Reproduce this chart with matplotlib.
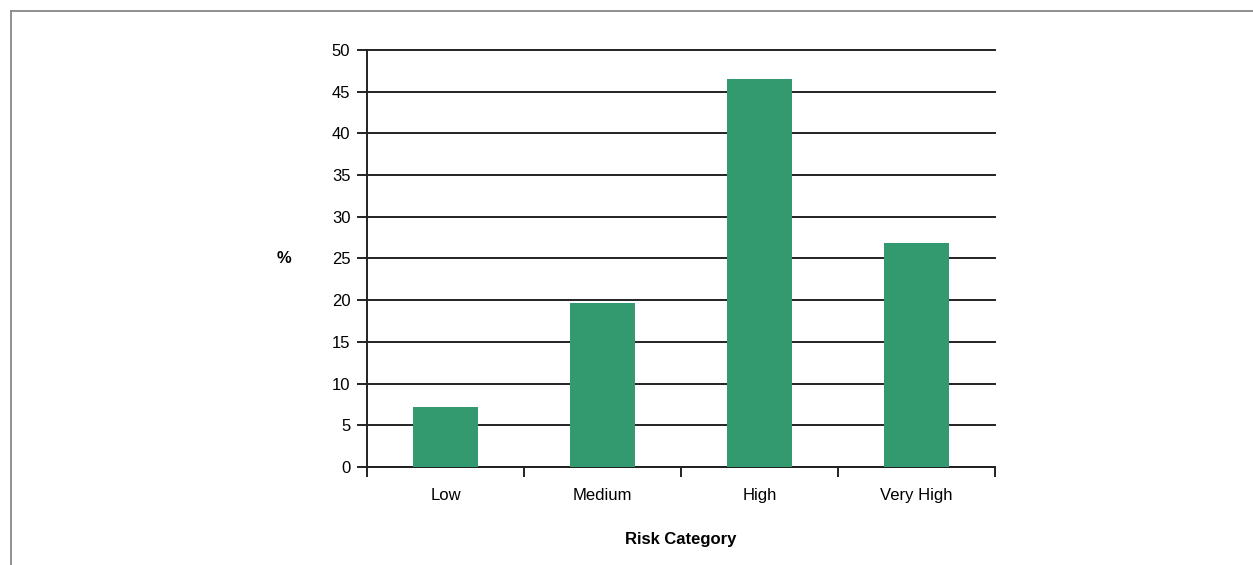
import matplotlib
matplotlib.use("Agg")
import matplotlib.pyplot as plt
from matplotlib.lines import Line2D
import numpy as np

categories = ["Low", "Medium", "High", "Very High"]
percent = [7.2, 19.7, 46.5, 26.9]
yticks = [0, 5, 10, 15, 20, 25, 30, 35, 40, 45, 50]

plt.rcParams["font.family"] = ["Liberation Sans", "DejaVu Sans"]
plt.rcParams["font.size"] = 12

fig = plt.figure(figsize=(12.53, 5.65), dpi=100)
ax = fig.add_axes([0.2929, 0.1735, 0.794 - 0.2929, 0.9115 - 0.1735])

x = np.arange(len(categories))
ax.bar(x, percent, width=0.41, color="#339a70", zorder=3)

ax.set_xlim(-0.5, len(categories) - 0.5)
ax.set_ylim(0, 50)
ax.set_yticks(yticks)
ax.yaxis.grid(True, color="#222222", linewidth=1.4, zorder=1)
ax.set_axisbelow(True)
for gl in ax.get_ygridlines():
    gl.set_clip_on(False)

# category labels in the middle, tick marks at the boundaries
ax.set_xticks(np.arange(len(categories) + 1) - 0.5)
ax.set_xticklabels([])
ax.set_xticks(x, minor=True)
ax.set_xticklabels(categories, minor=True)
ax.tick_params(axis="x", which="minor", length=0, pad=15)
ax.tick_params(axis="x", which="major", length=7, width=1.4, color="#222222")
ax.tick_params(axis="y", length=7, width=1.4, color="#222222", pad=5)

for side in ["top", "right"]:
    ax.spines[side].set_visible(False)
for side in ["left", "bottom"]:
    ax.spines[side].set_linewidth(1.4)
    ax.spines[side].set_color("#222222")

ax.set_xlabel("Risk Category", fontweight="bold", labelpad=21)
ax.set_ylabel("%", fontweight="bold", rotation=0, labelpad=34, va="center")

# grey frame at top and left of the picture
fig.add_artist(Line2D([11 / 1253, 1.0], [1 - 10.5 / 565] * 2, color="#888888", linewidth=1.3))
fig.add_artist(Line2D([11 / 1253] * 2, [0, 1 - 10.5 / 565], color="#888888", linewidth=1.3))

fig.savefig("out.png", dpi=100)
